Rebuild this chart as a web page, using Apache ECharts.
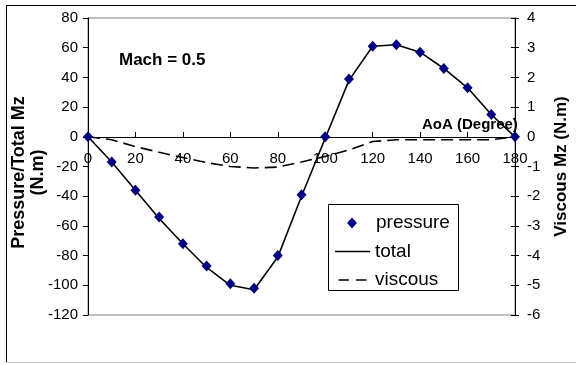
<!DOCTYPE html>
<html><head><meta charset="utf-8">
<script src="https://cdn.jsdelivr.net/npm/echarts@6/dist/echarts.min.js"></script>
<style>html,body{margin:0;padding:0;background:#fff}#c{width:576px;height:365px}</style>
</head><body><div id="c"></div>
<script>
const aoa = [0,10,20,30,40,50,60,70,80,90,100,110,120,130,140,150,160,170,180];
const pressure = [0,-17,-36,-54,-72,-87,-99,-102,-80,-39,0,39,61,62,57,46,33,15,0];
const total = [0,-17,-36,-55,-72,-88,-100,-103,-81,-40,-1,38,61,62,57,46,33,15,0];
const viscous = [0,-0.1,-0.33,-0.52,-0.7,-0.87,-1.0,-1.05,-1.02,-0.85,-0.66,-0.44,-0.16,-0.1,-0.1,-0.1,-0.1,-0.1,0];
const leftTicks = {min:-120,max:80,interval:20};
const rightTicks = {min:-6,max:4,interval:1};
const xTicks = {min:0,max:180,interval:20};

const F = 'Liberation Sans, Arial, sans-serif';
const pair = (xs, ys) => xs.map((x,i)=>[x, ys[i]]);
const chart = echarts.init(document.getElementById('c'), null, {renderer:'canvas'});
chart.setOption({
  animation:false,
  backgroundColor:'#fff',
  grid:{left:88,right:61,top:18,bottom:50,show:true,borderColor:'#808080',borderWidth:1,
        containLabel:false,outerBoundsMode:'none'},
  title:[
    {text:'Mach = 0.5',left:114,top:47,textStyle:{fontFamily:F,fontSize:17,fontWeight:'bold',color:'#000'}},
    {text:'AoA (Degree)',left:417,top:112,textStyle:{fontFamily:F,fontSize:15,fontWeight:'bold',color:'#000'}}
  ],
  xAxis:{type:'value',min:xTicks.min,max:xTicks.max,interval:xTicks.interval,position:'bottom',offset:-178,
    axisLine:{onZero:false,lineStyle:{color:'#000',width:1}},
    axisTick:{show:true,inside:true,length:5,lineStyle:{color:'#000'}},
    axisLabel:{margin:14,fontFamily:F,fontSize:15,color:'#000'},
    splitLine:{show:false}},
  yAxis:[
    {type:'value',min:leftTicks.min,max:leftTicks.max,interval:leftTicks.interval,position:'left',
     name:'Pressure/Total Mz\n(N.m)',nameLocation:'middle',nameRotate:90,nameGap:40,nameMoveOverlap:false,
     nameTextStyle:{fontFamily:F,fontSize:18,fontWeight:'bold',color:'#000',lineHeight:19,align:'center',padding:[0,12,0,0]},
     axisLine:{show:true,lineStyle:{color:'#000'}},
     axisTick:{show:true,length:5,lineStyle:{color:'#000'}},
     axisLabel:{margin:10,fontFamily:F,fontSize:15,color:'#000'},
     splitLine:{show:false}},
    {type:'value',min:rightTicks.min,max:rightTicks.max,interval:rightTicks.interval,position:'right',
     name:'Viscous Mz (N.m)',nameLocation:'middle',nameRotate:90,nameGap:38,nameMoveOverlap:false,
     nameTextStyle:{fontFamily:F,fontSize:17,fontWeight:'bold',color:'#000'},
     axisLine:{show:true,lineStyle:{color:'#000'}},
     axisTick:{show:true,length:4,lineStyle:{color:'#000'}},
     axisLabel:{margin:12,fontFamily:F,fontSize:15,color:'#000'},
     splitLine:{show:false}},
    {type:'value',min:rightTicks.min,max:rightTicks.max,interval:rightTicks.interval,position:'right',
     axisLine:{show:false},
     axisTick:{show:true,inside:true,length:4,lineStyle:{color:'#000'}},
     axisLabel:{show:false},splitLine:{show:false}}
  ],
  legend:[
    {data:['pressure'],orient:'vertical',left:347,top:213.5,padding:0,itemWidth:10,itemHeight:11,
     textStyle:{fontFamily:F,fontSize:19,color:'#000',padding:[0,0,0,14]}},
    {data:[{name:'total',icon:'rect'},{name:'viscous',icon:'path://M0,0h13v2h-13zM22,0h13v2h-13z'}],
     orient:'vertical',left:335,top:242,padding:0,
     itemWidth:35,itemHeight:1.6,itemGap:9.5,
     textStyle:{fontFamily:F,fontSize:19,color:'#000'}}
  ],
  graphic:[
    {type:'rect',shape:{x:328.5,y:204.5,width:130,height:86},style:{fill:null,stroke:'#000',lineWidth:1},z:100},
    {type:'line',shape:{x1:6.5,y1:5,x2:6.5,y2:363},style:{stroke:'#000',lineWidth:1}},
    {type:'line',shape:{x1:6,y1:5.5,x2:576,y2:5.5},style:{stroke:'#000',lineWidth:1}},
    {type:'line',shape:{x1:6,y1:362.5,x2:576,y2:362.5},style:{stroke:'#c8c8c8',lineWidth:1}}
  ],
  series:[
    {name:'total',type:'line',data:pair(aoa,total),yAxisIndex:0,symbol:'none',
     lineStyle:{color:'#000',width:1.6},itemStyle:{color:'#000'},z:2},
    {name:'viscous',type:'line',data:pair(aoa,viscous),yAxisIndex:1,symbol:'none',
     lineStyle:{color:'#000',width:1.6,type:[12,6]},itemStyle:{color:'#000'},z:1},
    {name:'pressure',type:'scatter',data:pair(aoa,pressure),yAxisIndex:0,symbol:'diamond',symbolSize:[10,11],
     itemStyle:{color:'#000080',opacity:1},z:3}
  ]
});
</script></body></html>
